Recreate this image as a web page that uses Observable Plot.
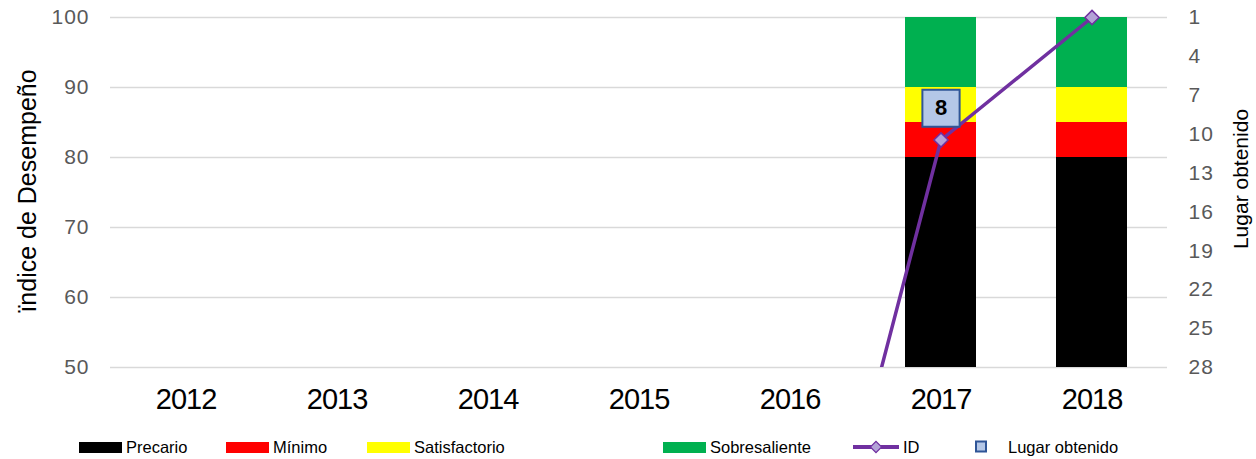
<!DOCTYPE html>
<html>
<head>
<meta charset="utf-8">
<script src="https://cdn.jsdelivr.net/npm/d3@7"></script>
<script src="https://cdn.jsdelivr.net/npm/@observablehq/plot@0.6"></script>
<style>
  body { margin: 0; background: #fff; font-family: "Liberation Sans", Arial, sans-serif; }
  #wrap { position: relative; width: 1256px; height: 459px; }
  .lg { position: absolute; top: 437px; height: 20px; display: flex; align-items: center; font-size: 16.5px; color: #000; white-space: nowrap; }
  .sw { display: inline-block; width: 43px; height: 11px; margin-right: 4px; }
</style>
</head>
<body>
<div id="wrap"></div>
<script>
// ---- data ----
const years = ["2012", "2013", "2014", "2015", "2016", "2017", "2018"];
const precario = [0, 0, 0, 0, 0, 80, 80];
const minimo = [0, 0, 0, 0, 0, 5, 5];
const satisfactorio = [0, 0, 0, 0, 0, 5, 5];
const sobresaliente = [0, 0, 0, 0, 0, 10, 10];
const idValues = [0, 0, 0, 0, 0, 82.5, 100];
const lugar = [null, null, null, null, null, 8, null];
const leftTicks = [50, 60, 70, 80, 90, 100];
const rankTicks = [1, 4, 7, 10, 13, 16, 19, 22, 25, 28];
const seriesNames = ["Precario", "Mínimo", "Satisfactorio", "Sobresaliente"];
const seriesColors = ["#000000", "#ff0000", "#ffff00", "#00b050"];

// rank (right axis, 1 at top, 28 at bottom) -> left-axis value
const rankToY = r => 100 - (r - 1) * 50 / 27;
const yToRank = v => Math.round(1 + (100 - v) * 27 / 50);

const stackRows = [];
[precario, minimo, satisfactorio, sobresaliente].forEach((arr, s) => {
  years.forEach((yr, i) => stackRows.push({year: yr, serie: seriesNames[s], value: arr[i]}));
});
const idRows = years.map((yr, i) => ({year: yr, value: idValues[i]}));
const idVisible = idRows.filter(d => d.value >= 50 && d.value <= 100);
const lugarRows = years.map((yr, i) => ({year: yr, rank: lugar[i]})).filter(d => d.rank != null);

const chart = Plot.plot({
  width: 1256,
  height: 420,
  marginLeft: 110,
  marginRight: 89,
  marginTop: 17,
  marginBottom: 53,
  style: {fontFamily: "'Liberation Sans', Arial, sans-serif", background: "#fff"},
  x: {type: "band", domain: years, paddingInner: 0.53, paddingOuter: 0.265, label: null},
  y: {domain: [50, 100], label: null},
  color: {domain: seriesNames, range: seriesColors},
  marks: [
    Plot.gridY(leftTicks, {stroke: "#d9d9d9", strokeOpacity: 1, strokeWidth: 1.5}),
    Plot.barY(stackRows, Plot.stackY({x: "year", y: "value", fill: "serie", order: seriesNames, clip: true})),
    Plot.line(idRows, {x: "year", y: "value", stroke: "#7030a0", strokeWidth: 3.5, clip: true}),
    Plot.dot(idVisible, {x: "year", y: "value", symbol: "diamond2", r: 6.4, fill: "#b3a2d7", stroke: "#7030a0", strokeWidth: 1.5}),
    Plot.dot(lugarRows, {x: "year", y: d => rankToY(d.rank), symbol: "square", r: 21, fill: "#b4c7e7", stroke: "#2f5597", strokeWidth: 2}),
    Plot.text(lugarRows, {x: "year", y: d => rankToY(d.rank), text: d => String(d.rank), fontSize: 22, fontWeight: "bold", fill: "#000"}),
    Plot.axisX(years, {anchor: "bottom", tickSize: 0, tickPadding: 21, fontSize: 29, fill: "#000", label: null}),
    Plot.axisY(leftTicks, {anchor: "left", tickSize: 0, tickPadding: 21, fontSize: 21, fill: "#595959", label: null}),
    Plot.axisY(rankTicks.map(rankToY), {anchor: "right", tickSize: 0, tickPadding: 21, fontSize: 21, fill: "#595959", label: null, tickFormat: v => String(yToRank(v))})
  ]
});

const svg = d3.select(chart);
svg.selectAll("g[aria-label='x-axis tick label'] text").attr("letter-spacing", "-1px");
svg.selectAll("g[aria-label='y-axis tick label'] text").attr("letter-spacing", "1px");

// extend the ID line's clip upward so the stroke at the top value is not cut
svg.selectAll("g[aria-label='line']").each(function() {
  const cp = this.getAttribute("clip-path");
  if (!cp) return;
  const m = cp.match(/#([^)"']+)/);
  if (!m) return;
  const rect = chart.querySelector(`[id="${m[1]}"] rect`);
  if (!rect) return;
  const y = +rect.getAttribute("y"), h = +rect.getAttribute("height");
  rect.setAttribute("y", y - 8);
  rect.setAttribute("height", h + 8);
});

// axis titles
svg.append("text")
  .attr("transform", "translate(36,191) rotate(-90)")
  .attr("text-anchor", "middle")
  .attr("font-size", 25)
  .attr("fill", "#000")
  .text("ïndice de Desempeño");
svg.append("text")
  .attr("transform", "translate(1248,179) rotate(-90)")
  .attr("text-anchor", "middle")
  .attr("font-size", 21)
  .attr("fill", "#000")
  .text("Lugar obtenido");

const wrap = document.getElementById("wrap");
wrap.appendChild(chart);

// legend
const legendItems = [
  {label: "Precario", left: 79, kind: "bar", color: "#000000"},
  {label: "Mínimo", left: 226, kind: "bar", color: "#ff0000"},
  {label: "Satisfactorio", left: 367, kind: "bar", color: "#ffff00"},
  {label: "Sobresaliente", left: 663, kind: "bar", color: "#00b050"},
  {label: "ID", left: 853, kind: "line"},
  {label: "Lugar obtenido", left: 975, kind: "square"}
];
legendItems.forEach(it => {
  const d = document.createElement("div");
  d.className = "lg";
  d.style.left = it.left + "px";
  if (it.kind === "bar") {
    d.innerHTML = `<span class="sw" style="background:${it.color}"></span><span>${it.label}</span>`;
  } else if (it.kind === "line") {
    d.innerHTML = `<svg width="46" height="20" style="margin-right:4px"><line x1="0" x2="46" y1="10" y2="10" stroke="#7030a0" stroke-width="4"/><rect x="19" y="6" width="8" height="8" transform="rotate(45 23 10)" fill="#b3a2d7" stroke="#7030a0" stroke-width="1.2"/></svg><span>${it.label}</span>`;
  } else {
    d.innerHTML = `<svg width="12" height="20" style="margin-right:21px"><rect x="1" y="4.5" width="10" height="10" fill="#b4c7e7" stroke="#2f5597" stroke-width="2"/></svg><span>${it.label}</span>`;
  }
  wrap.appendChild(d);
});
</script>
</body>
</html>
